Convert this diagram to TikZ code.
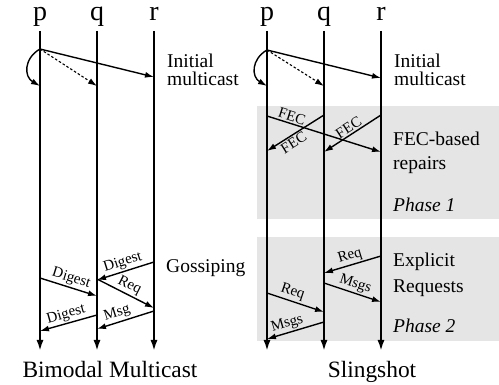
\documentclass[tikz,border=0pt]{standalone}
\usepackage{fontspec}
\setmainfont{Liberation Serif}
\usetikzlibrary{arrows.meta}

\begin{document}
\begin{tikzpicture}[x=1pt,y=-1pt]
        \tikzstyle{proc}=[font=\fontsize{28}{28}\selectfont,anchor=base,inner sep=0pt]
        \tikzstyle{life}=[line width=2pt,-{Latex[length=11pt,width=7pt]}]
        \tikzstyle{msg}=[line width=1.4pt,-{Latex[length=9pt,width=6pt]}]
        \tikzstyle{hint}=[msg,line width=1.1pt,dash pattern=on 2.5pt off 2pt]
        \tikzstyle{lbl}=[font=\fontsize{15}{15}\selectfont,sloped,inner sep=1.5pt]
        \tikzstyle{side}=[font=\fontsize{19.5}{18}\selectfont,anchor=base west,align=left,inner sep=0pt]
        \tikzstyle{title}=[font=\fontsize{23.4}{23.4}\selectfont,anchor=base,inner sep=0pt]
        \tikzstyle{phase}=[fill=gray!20]
        \useasboundingbox (0,0) rectangle (499,385);
        % phases of slingshot
        \fill[phase] (257,106) rectangle (499,219);
        \fill[phase] (257,237) rectangle (499,341);
        % processes
        \foreach \n/\x/\t in {lp/40/p,lq/97/q,lr/154/r,sp/267/p,sq/324/q,sr/381/r} {
            \node[proc] (\n) at (\x,21) {\t};
            \coordinate (\n top) at (\x,31);
            \coordinate (\n end) at (\x,351);
            \draw[life] (\n top) -- (\n end);
        }
        % bimodal multicast
        \coordinate (a0) at (40,49); \coordinate (a1) at (154,77);
        \coordinate (a2) at (97,86); \coordinate (a3) at (40,86);
        \draw[msg] (a0) -- (a1);
        \draw[hint] (a0) -- (a2);
        \draw[msg] (a0) to[bend right=60,looseness=1.3] (a3);
        \coordinate (g1) at (154,262); \coordinate (g2) at (97,280);
        \coordinate (g3) at (40,278); \coordinate (g4) at (97,296);
        \coordinate (g5) at (97,279); \coordinate (g6) at (154,308);
        \coordinate (g7) at (154,311); \coordinate (g8) at (97,329);
        \coordinate (g9) at (97,315); \coordinate (g10) at (40,331);
        \draw[msg] (g1) -- node[lbl,above] {Digest} (g2);
        \draw[msg] (g3) -- node[lbl,above] {Digest} (g4);
        \draw[msg] (g5) -- node[lbl,above] {Req} (g6);
        \draw[msg] (g7) -- node[lbl,above,pos=.6] {Msg} (g8);
        \draw[msg] (g9) -- node[lbl,above] {Digest} (g10);
        \node[side] (init1) at (167,86) {Initial\\multicast};
        \node[side] (gossip) at (166,273) {Gossiping};
        \node[title] (bimodal) at (110,378) {Bimodal Multicast};
        % slingshot
        \coordinate (b0) at (267,50); \coordinate (b1) at (381,78);
        \coordinate (b2) at (324,86); \coordinate (b3) at (267,86);
        \draw[msg] (b0) -- (b1);
        \draw[hint] (b0) -- (b2);
        \draw[msg] (b0) to[bend right=60,looseness=1.3] (b3);
        \coordinate (f1) at (267,116); \coordinate (f2) at (381,152);
        \coordinate (f3) at (324,115); \coordinate (f4) at (267,151);
        \coordinate (f5) at (381,115); \coordinate (f6) at (324,152);
        \draw[msg] (f1) -- node[lbl,above,pos=.2] {FEC} (f2);
        \draw[msg] (f3) -- node[lbl,below,pos=.6] {FEC} (f4);
        \draw[msg] (f5) -- node[lbl,above] {FEC} (f6);
        \coordinate (e1) at (381,256); \coordinate (e2) at (324,273);
        \coordinate (e3) at (324,283); \coordinate (e4) at (381,302);
        \coordinate (e5) at (267,293); \coordinate (e6) at (324,312);
        \coordinate (e7) at (324,322); \coordinate (e8) at (267,339);
        \draw[msg] (e1) -- node[lbl,above] {Req} (e2);
        \draw[msg] (e3) -- node[lbl,above] {Msgs} (e4);
        \draw[msg] (e5) -- node[lbl,above,pos=.4] {Req} (e6);
        \draw[msg] (e7) -- node[lbl,above,pos=.6] {Msgs} (e8);
        \node[side] (init2) at (394,86) {Initial\\multicast};
        \node[side,font=\fontsize{19.5}{24}\selectfont] (fec) at (393,170) {FEC-based\\repairs};
        \node[side,font=\itshape\fontsize{19.5}{22}\selectfont] (ph1) at (393,212) {Phase 1};
        \node[side,font=\fontsize{19.5}{26}\selectfont] (expl) at (393,293) {Explicit\\Requests};
        \node[side,font=\itshape\fontsize{19.5}{22}\selectfont] (ph2) at (393,333) {Phase 2};
        \node[title] (sling) at (372,378) {Slingshot};
\end{tikzpicture}
\end{document}
